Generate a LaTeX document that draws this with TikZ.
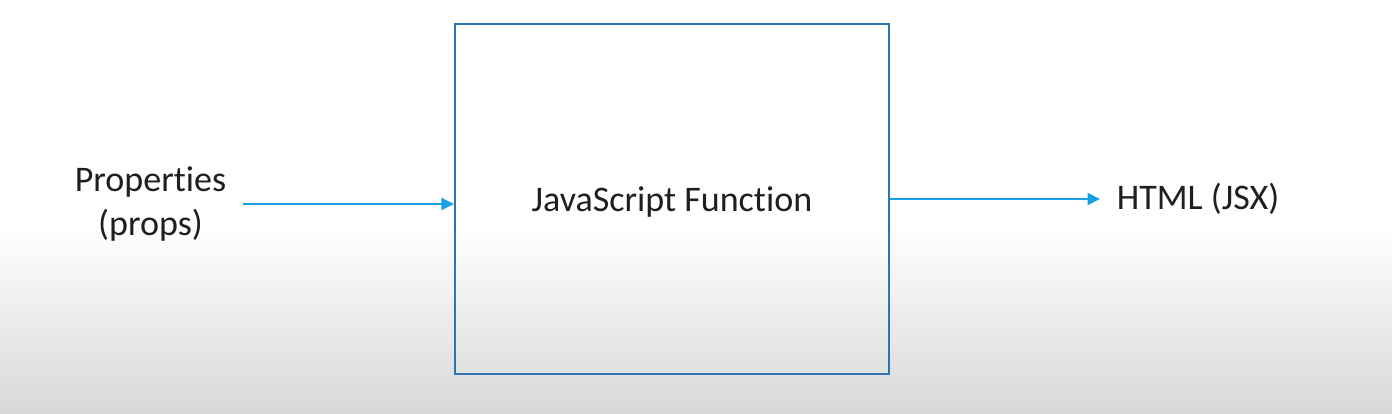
\documentclass[tikz,border=0pt]{standalone}
\usepackage{fontspec}
\setmainfont{Carlito}[Ligatures=NoCommon]
\usetikzlibrary{arrows.meta}
\definecolor{boxblue}{RGB}{46,117,182}
\definecolor{flowblue}{RGB}{24,160,230}
\definecolor{bgbottom}{RGB}{216,216,216}
\tikzset{
  fnbox/.style={draw=boxblue,line width=1.2pt,minimum width=8.68cm,minimum height=7cm,inner sep=0pt,text height=0.53cm,text depth=0.05cm},
  endtext/.style={align=center,inner xsep=0.33cm,inner ysep=0pt},
  flow/.style={draw=flowblue,line width=1.1pt,-{Triangle[length=0.25cm,width=0.24cm]}}
}
\begin{document}
\begin{tikzpicture}[x=0.02cm,y=-0.02cm,font=\fontsize{20.5}{25.5}\selectfont,text=black!88]
      \fill[white] (0,0) rectangle (1392,413);
      \shade[top color=white,bottom color=bgbottom] (0,225) rectangle (1392,413);
      \useasboundingbox (0,0) rectangle (1392,413);

      \node[fnbox] (fn) at (672,199){JavaScript Function};
      \node[endtext,anchor=east] (props) at (243,204){Properties\\(props)};
      \node[endtext,anchor=west] (html) at (1100,199){HTML (JSX)};

      \draw[flow] (props.east) -- (props.east -| fn.west);
      \draw[flow] (fn.east |- html.west) -- (html.west);
    \end{tikzpicture}
\end{document}
